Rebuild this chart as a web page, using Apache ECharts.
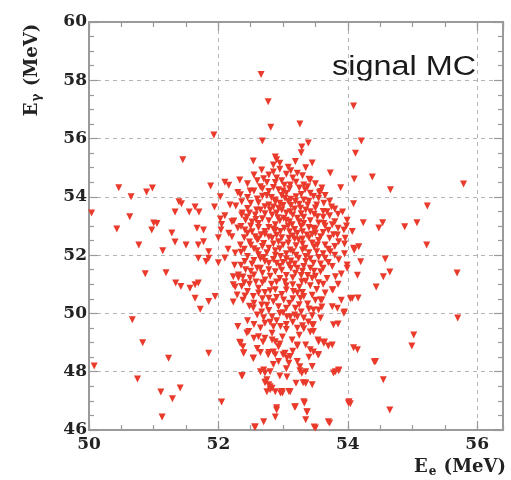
<!DOCTYPE html>
<html>
<head>
<meta charset="utf-8">
<script src="https://cdn.jsdelivr.net/npm/echarts@6/dist/echarts.min.js"></script>
<style>
html,body{margin:0;padding:0;background:#fff;}
#chart{width:511px;height:480px;}
</style>
</head>
<body>
<div id="chart"></div>
<script>
// Axis ranges and tick labels
const xRange = [50, 56.4];
const yRange = [46, 60];
const xMajorTicks = [50, 52, 54, 56];
const yMajorTicks = [46, 48, 50, 52, 54, 56, 58, 60];

// Scatter points [E_e, E_gamma] (MeV)
const outerPoints = [
[52.66,58.2],[51.93,56.12],[51.45,55.27],[52.54,55.23],[50.46,54.31],[50.65,54.0],[50.89,54.17],[50.98,54.3],[51.88,54.37],[52.1,54.5],
[52.16,54.4],[52.33,54.58],[52.03,54.0],[50.04,53.45],[50.63,53.32],[50.43,52.9],[51.0,53.1],[50.97,52.86],[51.28,52.76],[51.39,53.83],
[51.43,53.76],[51.33,53.48],[51.55,53.48],[51.64,53.65],[51.7,53.48],[51.94,53.65],[52.03,53.24],[51.67,52.92],[51.77,52.86],[52.04,52.86],
[52.27,53.69],[52.36,53.83],[52.49,54.2],[52.37,53.45],[52.24,53.17],[52.44,53.31],[52.59,53.55],[52.6,53.93],[52.52,53.14],[52.3,52.93],
[51.05,53.09],[52.16,52.75],[51.5,52.35],[51.69,52.35],[51.77,52.46],[51.14,52.15],[51.85,52.12],[51.69,51.89],[51.85,51.89],[51.81,51.78],
[52.0,51.74],[51.19,51.4],[51.34,51.04],[51.42,50.92],[51.56,50.86],[51.64,50.98],[51.69,51.04],[51.64,50.52],[51.72,50.14],[51.85,50.41],
[51.95,50.58],[51.23,48.46],[51.85,48.63],[50.77,52.35],[51.33,52.45],[50.87,51.36],[50.67,49.78],[50.83,48.99],[50.08,48.2],[50.75,47.75],
[51.11,47.3],[51.29,47.07],[51.41,47.44],[51.13,46.45],[52.05,46.96],[52.37,47.86],[52.57,46.1],[52.23,50.39],[52.44,49.33],[52.38,48.86],
[52.39,48.65],[52.54,48.45],[52.33,49.01],[52.31,51.22],[52.26,50.91],[52.41,50.6],
[52.77,57.26],[52.81,56.39],[53.26,56.5],[52.68,55.92],[53.39,55.85],[53.28,55.51],[53.29,55.71],[52.88,55.37],[52.9,55.27],[53.45,55.16],
[53.73,54.82],[54.09,57.12],[54.21,55.92],[54.12,55.5],[54.1,54.61],[54.38,54.68],[53.89,54.31],[54.66,54.24],[55.79,54.44],[54.09,53.76],
[55.23,53.69],[54.24,53.11],[54.48,52.93],[54.54,53.11],[54.88,52.97],[55.07,53.11],[53.99,53.2],[53.56,54.14],
[55.22,52.35],[55.69,51.39],[55.7,49.84],[54.58,51.87],[54.65,51.42],[54.55,51.26],[54.44,50.91],[54.15,51.31],[54.04,50.5],[54.16,50.53],
[54.2,51.77],[54.1,52.18],[53.99,51.66],[55.02,49.26],[54.99,48.88],[54.41,48.34],[54.55,47.72],[54.65,46.69],[54.01,46.93],[54.04,46.9],
[54.09,48.82],[54.15,48.75],[53.95,50.05],[53.85,49.64],[53.78,49.61],[53.86,48.03],[53.78,47.96],[53.72,46.24],[53.7,46.28],[53.48,46.1],
[53.37,46.62],[53.35,46.35],[53.33,46.93],[53.18,46.79],[52.9,46.76],[52.88,46.45],[52.7,46.28],[52.56,46.1],[54.02,46.97],[53.5,46.07]
];

const corePoints = [
[53.19,55.21],[52.85,55.09],[52.67,54.92],[53.22,54.81],[52.75,54.49],[52.88,54.49],[53.11,54.41],[53.32,54.41],[52.78,54.18],[52.93,54.24],
[52.34,54.07],[52.88,53.89],[53.03,53.95],[53.19,53.84],[53.32,53.89],[52.18,53.72],[52.72,53.66],[52.93,53.61],[53.11,53.49],[53.27,53.61],
[52.36,53.38],[52.57,53.38],[52.83,53.38],[53.01,53.27],[53.22,53.27],[52.21,53.15],[52.62,53.09],[52.88,53.04],[53.14,53.04],[53.32,53.09],
[52.41,52.86],[52.72,52.81],[52.96,52.81],[53.22,52.75],[52.21,52.63],[52.57,52.63],[52.83,52.58],[53.09,52.58],
[53.42,54.58],[53.58,54.18],[53.34,54.24],[53.47,54.01],[53.63,53.78],[53.42,53.49],[53.68,53.49],[53.53,53.32],[53.63,53.09],[53.76,53.04],
[53.94,52.86],[54.07,52.81],[53.47,52.92],[53.37,52.69],[53.84,52.69],[53.58,52.63],[53.96,52.58],
[52.62,52.55],[52.93,52.46],[53.24,52.52],[52.34,52.35],[52.78,52.24],[53.11,52.18],[53.34,52.24],[52.26,52.07],[52.62,52.01],[52.96,51.95],
[53.24,51.89],[52.41,51.78],[52.78,51.72],[53.09,51.66],[53.32,51.61],[52.6,51.55],[52.88,51.43],[53.19,51.38],[52.23,51.26],[52.49,51.21],
[52.72,51.15],[53.03,51.09],[53.29,51.09],[52.36,50.92],[52.62,50.86],[52.88,50.81],[53.16,50.75],[52.29,50.63],[52.54,50.58],[52.78,50.52],
[53.01,50.46],[53.27,50.52],[52.67,50.29],[52.93,50.23],[53.19,50.18],[52.6,49.95],[52.83,49.89],[53.06,49.89],[53.32,49.84],[52.72,49.66],
[52.96,49.55],[53.22,49.49],[52.47,49.38],[52.83,49.32],[52.31,51.32],[52.23,50.98],
[53.86,52.46],[54.09,52.24],[54.17,52.29],[53.53,52.35],[53.73,52.12],[53.65,51.89],[53.86,51.84],[53.47,51.72],[53.76,51.61],[53.58,51.43],
[53.99,51.55],[53.81,51.26],[53.45,51.21],[53.76,50.81],[53.58,50.46],[54.07,50.52],[53.76,50.23],[53.84,50.18],[53.47,50.12],[53.94,50.01],
[53.58,49.84],[53.45,49.61],[53.77,50.8]
];

const lowerPoints = [
[53.06,47.82],[53.11,47.31],[52.99,47.27],[52.8,47.48],[52.73,47.65],[52.75,47.31],[53.26,48.17],[53.35,48.0],[53.35,47.61],[53.45,47.55],
[53.31,47.62],[53.6,50.46],[53.55,50.12],[53.6,50.22],[53.39,49.71],[53.47,49.61],[53.42,49.36],[53.32,49.47],[53.54,49.09],[53.64,49.02],
[53.7,48.88],[53.47,48.68],[53.54,48.58],[53.22,48.88],[53.26,48.03],[53.22,49.88],[53.11,49.88],[52.99,49.19],[52.85,49.54],[52.83,49.09],
[52.85,48.68],[53.0,48.58],[53.06,48.47],[52.77,48.58],[52.65,48.0],[52.72,47.96],[52.75,47.72],[52.8,47.38],[52.88,47.31],[52.96,47.27],
[52.54,48.47],[52.69,49.02],[52.54,50.19],[52.67,50.05],
[52.62,49.2],[52.72,49.15],[52.88,49.03],[53.14,49.09],[52.34,48.98],[52.93,48.86],[53.22,48.92],[52.39,48.63],[52.65,48.66],[52.78,48.66],
[52.88,48.58],[53.03,48.63],[53.11,48.52],[52.93,48.35],[53.09,48.29],[53.22,48.35],[52.7,48.06],[52.8,48.0],[52.36,47.86],[53.29,47.95],
[52.72,47.63],[52.78,47.55],[52.83,47.43],[52.98,47.32],[53.09,47.32],[53.19,46.8],[52.9,46.69],
[53.47,49.38],[53.55,49.03],[53.63,48.98],[53.76,48.92],[53.42,48.75],[53.55,48.58],[54.43,48.35],[53.45,48.18],[53.81,48.0],[53.86,48.06],
[53.35,47.6],[53.32,46.97],[53.37,46.63]
];

const densePoints = [
[52.75,54.05],[53.05,54.12],[53.2,54.0],[52.95,53.78],[53.12,53.7],[52.8,53.55],[53.05,53.45],[53.38,53.72],[52.68,53.25],[52.95,53.18],
[53.1,53.15],[53.28,53.42],[52.5,53.0],[52.78,52.95],[53.02,52.92],[53.18,52.88],[53.4,52.95],[52.66,52.7],[52.9,52.68],[53.15,52.66],
[53.3,52.55],[52.48,52.45],[52.7,52.4],[53.0,52.35],[53.2,52.32],[53.45,52.42],[52.55,52.22],[52.88,52.15],[53.05,52.05],[53.4,52.08],
[52.7,51.92],[52.85,51.85],[53.12,51.8],[53.42,51.88],[52.52,51.7],[52.95,51.62],[53.22,51.55],[53.48,51.45],[52.68,51.38],[53.05,51.3],
[53.38,51.3],[52.58,51.08],[52.82,51.0],[53.15,50.98],[53.42,50.95],[52.72,50.72],[52.98,50.65],[53.22,50.7],[53.45,50.62],[52.85,50.4],
[53.1,50.35],[53.38,50.32],[52.78,50.1],[53.0,50.02],[53.28,50.05],[52.9,49.75],[53.15,49.7],[52.65,49.5],[53.05,49.45],[53.25,49.25],
[52.55,49.15],[52.95,48.95],[53.35,48.92],[52.6,48.8],[53.15,48.7],[53.4,48.5],[52.85,48.25],[53.05,48.1],[52.95,47.85],[53.2,47.6],
[52.98,54.55],[53.15,54.65],[53.25,54.3],[52.65,54.35],[53.5,54.45],[53.08,55.02],[52.78,54.75],[53.35,55.0],[52.95,54.95],[53.55,53.95],
[53.75,53.65],[53.62,53.3],[53.85,53.4],[53.7,52.85],[53.5,52.75],[53.8,52.3],[53.62,52.05],[53.95,52.05],[53.7,51.75],[53.9,51.35],
[53.55,51.05],[53.85,51.0],[53.65,50.7],[53.9,50.45],[52.45,52.75],[52.35,52.1],[52.5,51.45],[52.4,51.05],[52.55,50.35],[52.45,49.75],
[52.3,49.55],[52.25,51.65],[52.15,52.2],[52.1,51.9],[52.0,52.6],[52.45,54.45],[52.55,54.75],[52.3,54.15],[52.1,53.35],[52.05,53.05]
];

const centralPoints = [
[52.95,55.15],[53.12,54.9],[52.85,54.85],[53.3,54.72],[53.05,54.78],
[52.7,54.62],[52.9,54.65],[53.02,54.4],[53.4,54.6],[52.6,54.55],[53.2,54.5],
[52.55,54.2],[52.68,54.28],[52.85,54.32],[53.1,54.28],[53.38,54.35],[53.6,54.3],[53.0,54.2],
[52.45,53.98],[52.68,54.02],[52.82,53.98],[52.98,54.05],[53.12,53.92],[53.28,54.08],[53.42,54.12],[53.65,54.05],
[52.5,53.78],[52.62,53.8],[52.78,53.72],[52.88,53.82],[53.0,53.7],[53.08,53.85],[53.25,53.75],[53.4,53.85],[53.52,53.72],[53.72,53.85],
[52.45,53.6],[52.65,53.55],[52.85,53.65],[52.98,53.55],[53.18,53.58],[53.35,53.55],[53.5,53.62],[53.62,53.5],[53.8,53.58],
[52.48,53.45],[52.72,53.42],[52.9,53.45],[53.15,53.38],[53.32,53.3],[53.48,53.4],[53.72,53.35],[53.92,53.48],
[52.42,53.2],[52.58,53.22],[52.78,53.18],[52.92,53.28],[53.05,53.2],[53.25,53.15],[53.42,53.18],[53.55,53.1],[53.8,53.15],[53.98,53.0],
[52.35,52.98],[52.62,52.95],[52.85,52.9],[53.08,53.0],[53.28,52.98],[53.5,52.9],[53.65,53.0],[53.85,52.92],
[52.52,52.8],[52.72,52.72],[52.88,52.85],[53.1,52.8],[53.3,52.8],[53.45,52.72],[53.62,52.78],[53.78,52.7],
[52.4,52.6],[52.6,52.52],[52.78,52.62],[52.98,52.6],[53.18,52.55],[53.4,52.6],[53.55,52.5],[53.72,52.58],
[52.5,52.35],[52.68,52.3],[52.85,52.38],[53.08,52.42],[53.3,52.38],[53.48,52.28],[53.65,52.35],[53.95,52.38],
[52.4,52.2],[52.6,52.15],[52.75,52.08],[52.95,52.22],[53.15,52.12],[53.3,52.18],[53.52,52.12],[53.7,52.2],
[52.45,51.95],[52.65,51.88],[52.88,52.0],[53.05,51.88],[53.2,52.0],[53.35,51.95],[53.55,51.92],[53.8,52.0],
[52.35,51.65],[52.55,51.82],[52.72,51.78],[52.9,51.72],[53.0,51.75],[53.18,51.7],[53.35,51.78],[53.58,51.7],
[52.42,51.5],[52.65,51.55],[52.78,51.5],[52.98,51.48],[53.12,51.55],[53.3,51.45],[53.42,51.55],[53.62,51.55],
[52.38,51.25],[52.55,51.32],[52.8,51.28],[52.95,51.2],[53.15,51.22],[53.28,51.3],[53.5,51.28],[53.68,51.2],
[52.48,51.0],[52.68,51.05],[52.9,51.08],[53.05,50.95],[53.25,50.9],[53.35,51.1],[53.62,51.0],
[52.45,50.75],[52.62,50.7],[52.8,50.78],[53.05,50.8],[53.3,50.72],[53.52,50.82],
[52.38,50.45],[52.68,50.5],[52.9,50.55],[53.15,50.5],[53.32,50.58],[53.5,50.45],
[52.48,50.25],[52.75,50.28],[53.05,50.18],[53.25,50.3],[53.4,50.15],
[52.7,49.85],[52.95,50.0],[53.18,49.95],[53.45,49.92],
[52.55,49.62],[52.8,49.7],[53.05,49.62],[53.3,49.58]
];

const signalMC = outerPoints.concat(corePoints, lowerPoints, densePoints, centralPoints);

const frameColor = '#9a9a9a';
const labelFont = 'DejaVu Serif';

function xAxisCfg(position, interval, withLabels, tickLen, showSplit) {
  return {
    type: 'value', position: position, min: xRange[0], max: xRange[1], interval: interval,
    axisLine: { show: true, onZero: false, lineStyle: { color: frameColor, width: 2 } },
    axisTick: { show: true, inside: true, length: tickLen, lineStyle: { color: frameColor, width: 1.2 } },
    axisLabel: withLabels ? {
      show: true, margin: 6, color: '#222', fontFamily: labelFont, fontWeight: 'bold', fontSize: 17,
      showMaxLabel: false,
      formatter: function (v) { return xMajorTicks.indexOf(v) >= 0 ? String(v) : ''; }
    } : { show: false },
    splitLine: showSplit ? { show: true, lineStyle: { color: '#b5b5b5', type: [4, 4], width: 1 } } : { show: false }
  };
}

function yAxisCfg(position, withLabels) {
  return {
    type: 'value', position: position, min: yRange[0], max: yRange[1], interval: 2,
    axisLine: { show: true, onZero: false, lineStyle: { color: frameColor, width: 2 } },
    axisTick: { show: true, inside: true, length: 9, lineStyle: { color: frameColor, width: 1.2 } },
    minorTick: { show: true, splitNumber: 4, length: 5, lineStyle: { color: frameColor, width: 1.2 } },
    axisLabel: withLabels ? {
      show: true, margin: 2, color: '#222', fontFamily: labelFont, fontWeight: 'bold', fontSize: 17,
      formatter: function (v) { return yMajorTicks.indexOf(v) >= 0 ? String(v) : ''; }
    } : { show: false },
    splitLine: withLabels ? { show: true, lineStyle: { color: '#b5b5b5', type: [4, 4], width: 1 } } : { show: false }
  };
}

const chart = echarts.init(document.getElementById('chart'), null, { renderer: 'canvas' });
chart.setOption({
  animation: false,
  backgroundColor: '#ffffff',
  grid: { left: 89, right: 8, top: 22, bottom: 50, containLabel: false },
  xAxis: [
    xAxisCfg('bottom', 2, true, 9, true),
    xAxisCfg('bottom', 0.5, false, 5, false),
    xAxisCfg('top', 2, false, 9, false),
    xAxisCfg('top', 0.5, false, 5, false)
  ],
  yAxis: [
    yAxisCfg('left', true),
    yAxisCfg('right', false)
  ],
  graphic: [
    {
      type: 'text', x: 32, y: 70, rotation: Math.PI / 2,
      style: {
        text: '{m|E}{s|γ}{m| (MeV)}',
        align: 'center', verticalAlign: 'middle', textAlign: 'center', textVerticalAlign: 'middle',
        fill: '#222',
        rich: {
          m: { fontFamily: labelFont, fontWeight: 'bold', fontSize: 18, fill: '#222', lineHeight: 24 },
          s: { fontFamily: labelFont, fontWeight: 'bold', fontSize: 12, fill: '#222', lineHeight: 24, padding: [10, 1, 0, 1] }
        }
      }
    },
    {
      type: 'text', x: 506, y: 467,
      style: {
        text: '{m|E}{s|e}{m| (MeV)}',
        align: 'right', verticalAlign: 'middle', textAlign: 'right', textVerticalAlign: 'middle',
        fill: '#222',
        rich: {
          m: { fontFamily: labelFont, fontWeight: 'bold', fontSize: 18, fill: '#222', lineHeight: 24 },
          s: { fontFamily: labelFont, fontWeight: 'bold', fontSize: 12, fill: '#222', lineHeight: 24, padding: [10, 1, 0, 1] }
        }
      }
    },
    {
      type: 'text', x: 332, y: 68, scaleX: 1.2,
      style: {
        text: 'signal MC', font: '27px "Liberation Sans"',
        align: 'left', verticalAlign: 'middle', textAlign: 'left', textVerticalAlign: 'middle',
        fill: '#1a1a1a'
      }
    }
  ],
  series: [{
    type: 'scatter',
    xAxisIndex: 0, yAxisIndex: 0,
    symbol: 'triangle', symbolRotate: 180, symbolSize: 7,
    itemStyle: { color: '#e93a2b', opacity: 1 },
    data: signalMC
  }]
});
</script>
</body>
</html>
